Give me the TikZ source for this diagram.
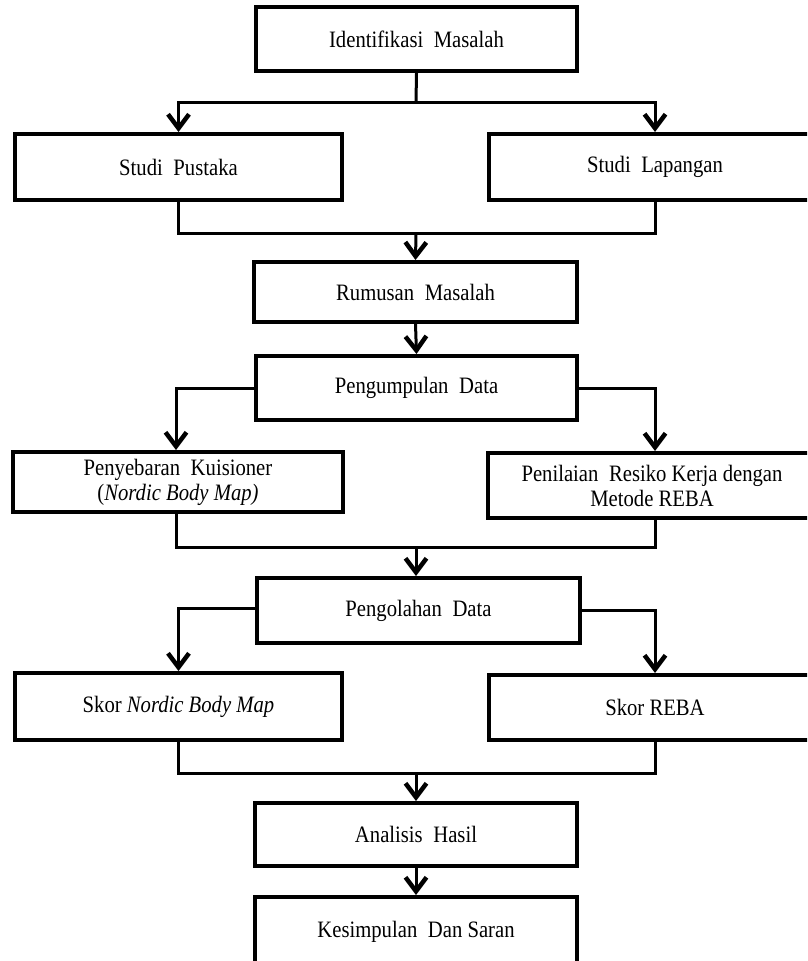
\documentclass[tikz,border=0pt]{standalone}
\usepackage{fontspec}
\setmainfont{Liberation Serif}[FakeStretch=0.88]
\usetikzlibrary{arrows.meta}
\newcommand\wsp{\hspace{0.45em}}
\begin{document}
\begin{tikzpicture}[x=1pt,y=-1pt,
  box/.style={draw,line width=4pt,rectangle,inner sep=0pt,align=center,
    font=\fontsize{23.5}{28}\selectfont},
  conn/.style={line width=3pt,line cap=butt,line join=miter},
  arr/.style={conn,-{Straight Barb[length=14pt,width=21pt,line width=4.5pt]}}]
\useasboundingbox (0,0) rectangle (807,961);
\clip (0,0) rectangle (807,961);
\fill[white] (0,0) rectangle (807,961);
% nodes
\node[box,minimum width=321pt,minimum height=64pt] (im) at (416.5,39) {Identifikasi\wsp Masalah};
\node[box,minimum width=327pt,minimum height=66pt] (sp) at (178.5,167) {Studi\wsp Pustaka};
\node[box,minimum width=332pt,minimum height=66pt] (sl) at (655,167) {Studi\wsp Lapangan};
\node[box,minimum width=323pt,minimum height=60pt] (rm) at (415.5,292) {Rumusan\wsp Masalah};
\node[box,minimum width=321pt,minimum height=64pt] (pd) at (416.5,388) {Pengumpulan\wsp Data};
\node[box,minimum width=330pt,minimum height=60pt,font=\fontsize{23.5}{25}\selectfont] (pk) at (178,482) {Penyebaran\wsp Kuisioner\\(\textit{Nordic Body Map)}};
\node[box,minimum width=328pt,minimum height=65pt,font=\fontsize{23.5}{25}\selectfont] (rb) at (652,485.5) {Penilaian\wsp Resiko Kerja dengan\\Metode REBA};
\node[box,minimum width=323pt,minimum height=65pt] (po) at (418.5,610.5) {Pengolahan\wsp Data};
\node[box,minimum width=327pt,minimum height=67pt] (sn) at (178.5,706.5) {Skor \textit{Nordic Body Map}};
\node[box,minimum width=332pt,minimum height=65pt] (sr) at (655,707.5) {Skor REBA};
\node[box,minimum width=322pt,minimum height=63pt] (ah) at (416,834.5) {Analisis\wsp Hasil};
\node[box,minimum width=322pt,minimum height=80pt,anchor=north] (ks) at (416,895) {};
\node[font=\fontsize{23.5}{28}\selectfont] (kst) at (416,932) {Kesimpulan\wsp Dan Saran};
% junction coordinates
\coordinate (j1) at (416,102);
\coordinate (j2) at (416,233);
\coordinate (j3) at (416,547);
\coordinate (j4) at (416,773);
% connectors
\draw[conn] (im.south) -- (j1);
\draw[arr] (j1) -| (sp.north);
\draw[arr] (j1) -| (sl.north);
\draw[conn] (sp.south) |- (j2) -| (sl.south);
\draw[arr] (j2) -- (rm.north);
\draw[arr] (rm.south) -- (pd.north);
\draw[arr] (pd.west) -| ([xshift=-2pt]pk.north);
\draw[arr] (pd.east) -| ([xshift=3pt]rb.north);
\draw[conn] ([xshift=-2pt]pk.south) |- (j3) -| ([xshift=3pt]rb.south);
\draw[arr] (j3) -- ([xshift=-2.5pt]po.north);
\draw[arr] ([yshift=2pt]po.west) -| (sn.north);
\draw[arr] (po.east) -| (sr.north);
\draw[conn] (sn.south) |- (j4) -| (sr.south);
\draw[arr] (j4) -- (ah.north);
\draw[arr] (ah.south) -- (ks.north);
\end{tikzpicture}
\end{document}
